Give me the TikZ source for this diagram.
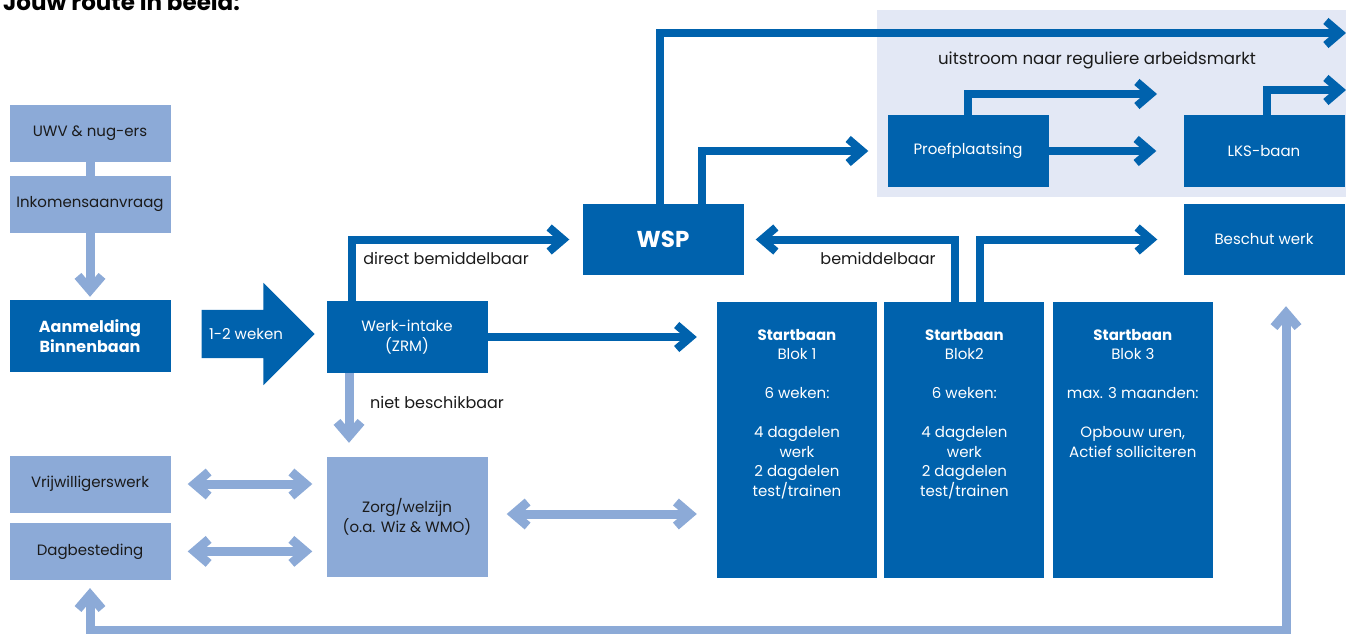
\documentclass[tikz,border=0pt]{standalone}
\usepackage{fontspec}
\setmainfont{Poppins}
\usepackage{tikz}
\usetikzlibrary{arrows.meta,shapes.arrows,positioning,calc}
\definecolor{routedark}{HTML}{0062AD}
\definecolor{routelight}{HTML}{8CAAD7}
\definecolor{routepale}{HTML}{E3E8F5}
\definecolor{routetext}{HTML}{1A1A1A}

\begin{document}
\begin{tikzpicture}[
            x=1pt, y=-1pt,
            box/.style={rectangle, minimum width=161pt, minimum height=57pt, inner sep=0pt, align=center, font=\fontsize{15}{19.5}\selectfont},
            dark/.style={box, fill=routedark, text=white},
            light/.style={box, fill=routelight, text=routetext},
            blok/.style={align=center, inner sep=0pt, text=white, font=\fontsize{15}{19.5}\selectfont},
            bigarrow/.style={single arrow, fill=routedark, text=white, minimum height=113pt, minimum width=102pt,
                single arrow head extend=27pt, text height=11pt, text depth=0pt, inner ysep=18.5pt, inner xsep=0pt,
                font=\fontsize{15}{18}\selectfont},
            flow/.style={draw=routedark, line width=8pt, -{Straight Barb[length=14pt, width=24pt]}},
            soft/.style={draw=routelight, line width=9pt, -{Straight Barb[length=14pt, width=24pt]}},
            both/.style={soft, {Straight Barb[length=14pt, width=24pt]}-{Straight Barb[length=14pt, width=24pt]}},
            lbl/.style={text=routetext, font=\fontsize{16}{19}\selectfont}
        ]
            \useasboundingbox (0,0) rectangle (1346,634);

            % Title and outflow area
            \node[anchor=base west, inner sep=0pt, font=\fontsize{23}{27}\selectfont\bfseries] (title) at (3,11) {Jouw route in beeld:};
            \fill[routepale] (877,10) rectangle (1346,197);
            \node[lbl, font=\fontsize{16.6}{19}\selectfont] (uitstroom) at (1097,60) {uitstroom naar reguliere arbeidsmarkt};

            % Entry column
            \node[light] (uwv) at (90,133) {UWV \& nug-ers};
            \node[light, below=14pt of uwv] (ink) {Inkomensaanvraag};
            \node[dark, minimum height=72pt, font=\fontsize{16}{20}\selectfont\bfseries] (aanm) at (90,336) {Aanmelding\\Binnenbaan};
            \node[bigarrow] (weken) at (246,334) {1-2 weken};
            \node[dark, minimum height=72pt] (intake) at (407,337) {Werk-intake\\(ZRM)};

            % Care side
            \node[light, minimum height=120pt] (zorg) at (407,517) {Zorg/welzijn\\(o.a. Wiz \& WMO)};
            \node[light] (vrij) at (90,484) {Vrijwilligerswerk};
            \node[light, below=10pt of vrij] (dag) {Dagbesteding};

            % Work side
            \node[dark, minimum height=71pt, font=\fontsize{23}{26}\selectfont\bfseries] (wsp) at (663,239.5) {WSP};
            \node[dark, minimum height=71pt] (besch) at (1264,239.5) {Beschut werk};
            \node[dark, minimum height=72pt] (proef) at (968,151) {Proefplaatsing};
            \node[dark, minimum height=72pt] (lks) at (1264,151) {LKS-baan};

            % Startbaan blocks
            \node[dark, minimum width=160pt, minimum height=276pt] (sb1) at (797,440) {};
            \node[dark, minimum width=160pt, minimum height=276pt, right=7pt of sb1] (sb2) {};
            \node[dark, minimum width=160pt, minimum height=276pt, right=8pt of sb2] (sb3) {};
            \node[blok, below=27pt of sb1.north] (sb1t) {\textbf{Startbaan}\\Blok 1\\[19.5pt]6 weken:\\[19.5pt]4 dagdelen\\werk\\2 dagdelen\\test/trainen};
            \node[blok, below=27pt of sb2.north] (sb2t) {\textbf{Startbaan}\\Blok2\\[19.5pt]6 weken:\\[19.5pt]4 dagdelen\\werk\\2 dagdelen\\test/trainen};
            \node[blok, below=27pt of sb3.north] (sb3t) {\textbf{Startbaan}\\Blok 3\\[19.5pt]max. 3 maanden:\\[19.5pt]Opbouw uren,\\Actief solliciteren};

            % Free ends on the right edge
            \coordinate (outtop) at (1346,33);
            \coordinate (proefout) at (1157,94);
            \coordinate (lksout) at (1346,90);
            \coordinate (loopbase) at (700,630.5);

            % Dark routes
            \draw[flow] ([xshift=-3pt]wsp.north) |- (outtop);
            \draw[flow] ([xshift=39pt]wsp.north) |- ([xshift=-19pt]proef.west);
            \draw[flow] (proef.north) |- (proefout);
            \draw[flow] (proef.east) -- ([xshift=-27pt]lks.west);
            \draw[flow] ([xshift=3pt]lks.north) |- (lksout);
            \draw[flow] ([xshift=-55pt]intake.north) |- ([xshift=-13pt]wsp.west);
            \draw[flow] (intake.east) -- ($(sb1.west |- intake.east)+(-20,0)$);
            \draw[flow] ([xshift=-9pt]sb2.north) |- ([xshift=12pt]wsp.east);
            \draw[flow] ([xshift=16pt]sb2.north) |- ([xshift=-26pt]besch.west);

            % Light routes
            \draw[soft, -] (uwv) -- (ink);
            \draw[soft] (ink) -- ([yshift=3pt]aanm.north);
            \draw[soft] ([xshift=-58pt]intake.south) -- ([xshift=-58pt, yshift=14pt]zorg.north);
            \draw[both] ([xshift=17pt]vrij.east) -- ($(zorg.west |- vrij.east)+(-14,0)$);
            \draw[both] ([xshift=17pt]dag.east) -- ($(zorg.west |- dag.east)+(-14,0)$);
            \draw[both] ([xshift=19pt, yshift=3pt]zorg.east) -- ($(sb1.west |- zorg.east)+(-20,-3)$);
            \draw[both] ([yshift=-8pt]dag.south) |- (loopbase) -| ([xshift=22pt, yshift=-31pt]besch.south);

            % Route labels
            \node[lbl] (direct) at (446,258) {direct bemiddelbaar};
            \node[lbl] (bemid) at (878,258) {bemiddelbaar};
            \node[lbl] (niet) at (437,402) {niet beschikbaar};

        \end{tikzpicture}
\end{document}
